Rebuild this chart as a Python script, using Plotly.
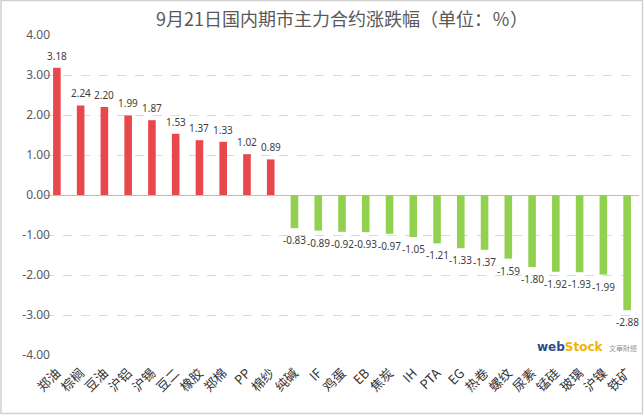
import plotly.graph_objects as go

categories = ["郑油", "棕榈", "豆油", "沪铝", "沪锡", "豆二", "橡胶", "郑棉", "PP", "棉纱",
              "纯碱", "IF", "鸡蛋", "EB", "焦炭", "IH", "PTA", "EG", "热卷", "螺纹",
              "尿素", "锰硅", "玻璃", "沪镍", "铁矿"]
values = [3.18, 2.24, 2.20, 1.99, 1.87, 1.53, 1.37, 1.33, 1.02, 0.89,
          -0.83, -0.89, -0.92, -0.93, -0.97, -1.05, -1.21, -1.33, -1.37, -1.59,
          -1.80, -1.92, -1.93, -1.99, -2.88]
y_ticks = [4, 3, 2, 1, 0, -1, -2, -3, -4]
title_text = "9月21日国内期市主力合约涨跌幅（单位：％）"

RED = "#E8474C"
GREEN = "#92D050"
colors = [RED if v >= 0 else GREEN for v in values]

FONT = "Noto Sans CJK SC"
W, H = 644, 415
ML, MR, MT, MB = 45, 5, 35, 60
PW, PH = W - ML - MR, H - MT - MB

fig = go.Figure(go.Bar(
    x=categories, y=values,
    marker=dict(color=colors, line=dict(width=0)),
    width=0.32,
    hoverinfo="x+y",
))

# value labels
for c, v in zip(categories, values):
    fig.add_annotation(x=c, y=v, text=f"{v:.2f}", showarrow=False,
                       xanchor="center", yanchor="middle",
                       yshift=12 if v >= 0 else -12,
                       font=dict(family="Noto Sans", size=10, color="#404040"))

fig.update_layout(
    width=W, height=H,
    margin=dict(l=ML, r=MR, t=MT, b=MB, autoexpand=False),
    paper_bgcolor="white", plot_bgcolor="white",
    showlegend=False,
    title=dict(text=title_text, x=(ML + PW / 2) / W, xanchor="center",
               y=1 - 20 / H, yanchor="middle",
               font=dict(family=FONT, size=18, color="#595959")),
    font=dict(family=FONT),
)
fig.update_yaxes(
    range=[-4, 4], tickvals=y_ticks, ticktext=[f"{t:.2f}" for t in y_ticks],
    showgrid=True, gridcolor="#d9d9d9", griddash="dash", gridwidth=1,
    zeroline=True, zerolinecolor="#bfbfbf", zerolinewidth=1,
    tickfont=dict(family="Noto Sans", size=12, color="#595959"),
    ticks="", showline=False, automargin=False, ticklabelstandoff=-6,
)
fig.update_xaxes(
    range=[-0.5, len(categories) - 0.5],
    tickangle=-45, showgrid=False, showline=False, ticks="",
    tickfont=dict(family=FONT, size=13, color="#333333"), automargin=False,
    ticklabelstandoff=7,
)

# chart border
fig.add_shape(type="rect", xref="paper", yref="paper",
              x0=-(ML - 1) / PW, x1=1 + (MR - 1.5) / PW,
              y0=-(MB - 1.5) / PH, y1=1 + (MT - 0.5) / PH,
              line=dict(color="#d0d0d0", width=1.5), fillcolor="rgba(0,0,0,0)", layer="below")

# watermark logo
def px_x(px):
    return (px - ML) / PW

def px_y(py):
    return (MT + PH - py) / PH

fig.add_annotation(xref="paper", yref="paper", x=px_x(535), y=px_y(347), xanchor="left", yanchor="middle",
                   text="<b><span style='color:#2B4C8C'>web</span><span style='color:#F0B400'>Stock</span></b>",
                   showarrow=False, font=dict(family="DejaVu Sans", size=12))
fig.add_annotation(xref="paper", yref="paper", x=px_x(607), y=px_y(348), xanchor="left", yanchor="middle",
                   text="文華財經", showarrow=False, font=dict(family=FONT, size=7, color="#9a9a9a"))

fig.write_html("out.html", config={"displayModeBar": False},
               post_script="document.body.style.margin='0';document.body.style.overflow='hidden';")
